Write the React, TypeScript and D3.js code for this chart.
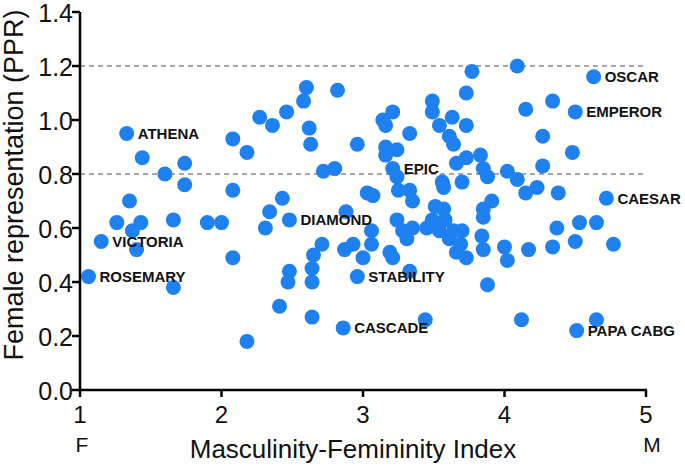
import React from "react";
import * as d3 from "d3";

const xs: number[] = [
  1.06, 1.15, 1.33, 1.44, 1.35, 1.26, 1.37, 1.43, 1.40, 1.66,
  1.90, 2.00, 2.08, 1.66, 2.18, 1.60, 1.74, 1.74, 2.08, 2.18,
  2.08, 2.27, 2.36, 2.46, 2.58, 2.60, 2.82, 2.62, 2.63, 2.96,
  2.72, 2.80, 2.43, 2.34, 2.31, 2.48,
  2.41, 2.64, 2.48, 2.47, 2.64, 2.64, 2.65, 2.71, 2.87, 2.93,
  3.00, 3.06, 3.06, 3.19, 3.21, 3.33, 2.96, 2.86, 3.44,
  3.14, 3.21, 3.16, 3.33, 3.16, 3.24, 3.16, 3.21, 3.24, 3.25,
  3.33, 3.35, 3.03, 3.07, 2.88, 3.49, 3.49, 3.54, 3.63, 3.61,
  3.64, 3.66, 3.56, 3.57, 3.24, 3.28, 3.31, 3.35, 3.45, 3.49,
  3.51, 3.57, 3.58, 3.54, 3.61, 3.64, 3.66, 3.69, 3.70, 3.73,
  3.84, 3.85, 3.85, 3.85,
  4.63, 4.50, 4.72, 4.09, 3.77, 3.73, 4.15, 4.34, 3.73, 4.27,
  4.48, 4.27, 3.73, 3.83, 3.85, 3.88, 4.02, 4.09, 3.70, 4.15,
  4.23, 4.38, 3.91, 4.17, 4.34, 4.37, 4.50, 4.53, 4.65, 4.77,
  3.88, 4.12, 4.65, 4.51, 4.00, 4.02,
];

const ys: number[] = [
  0.42, 0.55, 0.95, 0.86, 0.70, 0.62, 0.59, 0.62, 0.52, 0.63,
  0.62, 0.62, 0.49, 0.38, 0.18, 0.80, 0.84, 0.76, 0.93, 0.88,
  0.74, 1.01, 0.98, 1.03, 1.07, 1.12, 1.11, 0.97, 0.91, 0.91,
  0.81, 0.82, 0.71, 0.66, 0.60, 0.63,
  0.31, 0.27, 0.44, 0.40, 0.45, 0.40, 0.50, 0.54, 0.52, 0.54,
  0.49, 0.59, 0.54, 0.51, 0.49, 0.44, 0.42, 0.23, 0.26,
  1.00, 1.03, 0.98, 0.95, 0.90, 0.89, 0.87, 0.82, 0.79, 0.74,
  0.74, 0.70, 0.73, 0.72, 0.66, 1.07, 1.03, 0.98, 1.01, 0.94,
  0.91, 0.84, 0.77, 0.75, 0.63, 0.59, 0.56, 0.60, 0.60, 0.63,
  0.68, 0.67, 0.63, 0.59, 0.56, 0.59, 0.51, 0.54, 0.59, 0.49,
  0.57, 0.52, 0.64, 0.67,
  1.16, 1.03, 0.71, 1.20, 1.18, 1.10, 1.04, 1.07, 0.98, 0.94,
  0.88, 0.83, 0.86, 0.87, 0.82, 0.79, 0.81, 0.78, 0.77, 0.73,
  0.75, 0.73, 0.70, 0.52, 0.53, 0.60, 0.55, 0.62, 0.62, 0.54,
  0.39, 0.26, 0.26, 0.22, 0.53, 0.48,
];

const labelNames: string[] = [
  "ROSEMARY", "VICTORIA", "ATHENA", "DIAMOND", "STABILITY", "CASCADE",
  "EPIC", "OSCAR", "EMPEROR", "CAESAR", "PAPA CABG",
];
const labelXs: number[] = [1.06, 1.15, 1.33, 2.48, 2.96, 2.86, 3.21, 4.63, 4.50, 4.72, 4.51];
const labelYs: number[] = [0.42, 0.55, 0.95, 0.63, 0.42, 0.23, 0.82, 1.16, 1.03, 0.71, 0.22];

const xTicks: number[] = [1, 2, 3, 4, 5];
const yTicks: number[] = [0, 0.2, 0.4, 0.6, 0.8, 1.0, 1.2, 1.4];
const refLines: number[] = [0.8, 1.2];

const xTitle = "Masculinity-Femininity Index";
const yTitle = "Female representation (PPR)";
const xLeftEnd = "F";
const xRightEnd = "M";

const W = 685;
const H = 471;
const FONT = "'Liberation Sans', Arial, Helvetica, sans-serif";
const BLUE = "#1f80ef";

export default function App() {
  const x = d3.scaleLinear().domain([1, 5]).range([80, 646]);
  const y = d3.scaleLinear().domain([0, 1.4]).range([390, 12]);
  const fmt = d3.format(".1f");

  return (
    <svg
      width={W}
      height={H}
      viewBox={`0 0 ${W} ${H}`}
      style={{ position: "absolute", left: 0, top: 0, background: "#fff" }}
      fontFamily={FONT}
    >
      <rect x={0} y={0} width={W} height={H} fill="#fff" />
      {refLines.map((v) => (
        <line
          key={"r" + v}
          x1={x(1)}
          x2={x(5)}
          y1={y(v)}
          y2={y(v)}
          stroke="#8a8a8a"
          strokeWidth={1.5}
          strokeDasharray="5,4"
        />
      ))}
      {xs.map((xv, i) => (
        <circle key={"p" + i} cx={x(xv)} cy={y(ys[i])} r={7.5} fill={BLUE} />
      ))}
      {labelNames.map((name, i) => (
        <text
          key={"l" + i}
          x={x(labelXs[i]) + 11}
          y={y(labelYs[i]) + 5.5}
          fontSize={15}
          fontWeight="bold"
          fill="#111"
        >
          {name}
        </text>
      ))}
      <line x1={x(1)} x2={x(1)} y1={y(1.4)} y2={y(0) + 1} stroke="#000" strokeWidth={2.5} />
      <line x1={x(1) - 1} x2={x(5) + 1} y1={y(0)} y2={y(0)} stroke="#000" strokeWidth={2.5} />
      {yTicks.map((t) => (
        <g key={"yt" + t}>
          <line x1={x(1) - 8} x2={x(1)} y1={y(t)} y2={y(t)} stroke="#000" strokeWidth={2.5} />
          <text
            x={73}
            y={y(t)}
            dy="0.38em"
            textAnchor="end"
            fontSize={25}
            fill="#111"
          >
            {fmt(t)}
          </text>
        </g>
      ))}
      {xTicks.map((t) => (
        <g key={"xt" + t}>
          <line x1={x(t)} x2={x(t)} y1={y(0)} y2={y(0) + 7} stroke="#000" strokeWidth={2.5} />
          <text x={x(t)} y={423} textAnchor="middle" fontSize={24} fill="#111">
            {t}
          </text>
        </g>
      ))}
      <text x={82} y={452} textAnchor="middle" fontSize={21} fill="#111">
        {xLeftEnd}
      </text>
      <text x={652} y={452} textAnchor="middle" fontSize={21} fill="#111">
        {xRightEnd}
      </text>
      <text x={353} y={458} textAnchor="middle" fontSize={26} fill="#111">
        {xTitle}
      </text>
      <text
        transform={`translate(23,185) rotate(-90)`}
        textAnchor="middle"
        fontSize={27}
        fill="#111"
      >
        {yTitle}
      </text>
    </svg>
  );
}
